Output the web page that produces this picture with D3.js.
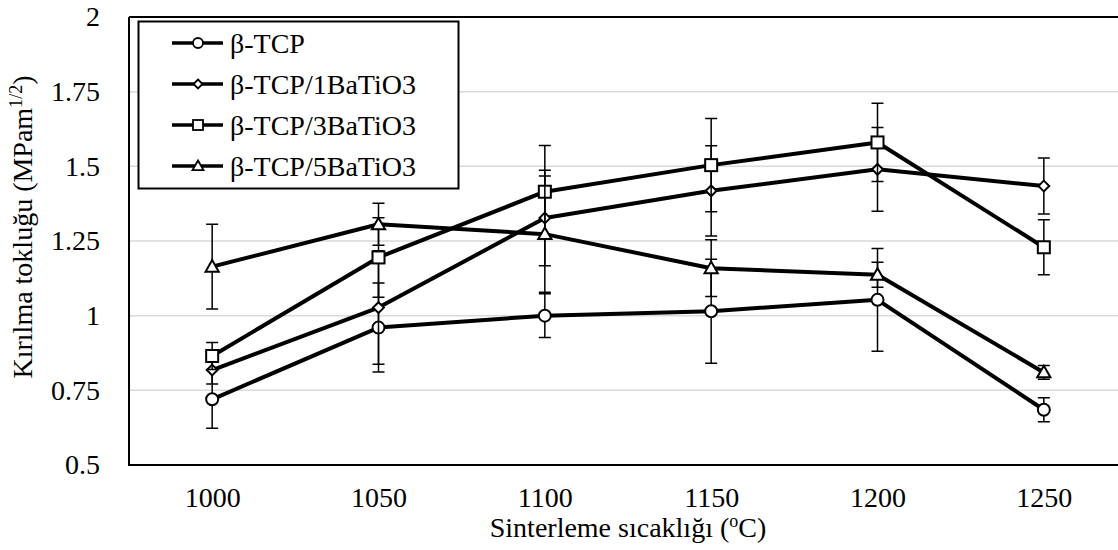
<!DOCTYPE html>
<html>
<head>
<meta charset="utf-8">
<script src="https://cdn.jsdelivr.net/npm/d3@7"></script>
<style>
  body { margin: 0; background: #fff; }
  svg, svg text { font-family: "Liberation Serif", "Times New Roman", serif; }
</style>
</head>
<body>
<div id="chart"></div>
<script>
const categories = [1000, 1050, 1100, 1150, 1200, 1250];
const yTicks = [0.5, 0.75, 1, 1.25, 1.5, 1.75, 2];

const tcp = [0.72, 0.96, 1.0, 1.015, 1.053, 0.685];
const tcpErr = [0.097, 0.149, 0.073, 0.174, 0.172, 0.04];
const ba1 = [0.818, 1.027, 1.327, 1.418, 1.49, 1.434];
const ba1Err = [0.047, 0.19, 0.16, 0.151, 0.14, 0.094];
const ba3 = [0.865, 1.195, 1.415, 1.504, 1.58, 1.229];
const ba3Err = [0.045, 0.133, 0.155, 0.156, 0.131, 0.092];
const ba5 = [1.164, 1.306, 1.273, 1.159, 1.137, 0.81];
const ba5Err = [0.142, 0.07, 0.195, 0.095, 0.042, 0.023];

const seriesNames = ['β-TCP', 'β-TCP/1BaTiO3', 'β-TCP/3BaTiO3', 'β-TCP/5BaTiO3'];
const markers = ['circle', 'diamond', 'square', 'triangle'];

const series = seriesNames.map((name, i) => ({
    name: name,
    marker: markers[i],
    values: [tcp, ba1, ba3, ba5][i],
    errors: [tcpErr, ba1Err, ba3Err, ba5Err][i]
}));

const FONT = '"Liberation Serif", "Times New Roman", serif';
const W = 1118, H = 550;
const plot = { left: 129, right: 1127, top: 17, bottom: 465 };

const svg = d3.select('#chart').append('svg')
    .attr('width', W)
    .attr('height', H)
    .attr('font-family', FONT);

const x = d3.scalePoint()
    .domain(categories)
    .range([plot.left, plot.right])
    .padding(0.5);

const y = d3.scaleLinear()
    .domain([0.5, 2])
    .range([plot.bottom, plot.top]);

// gridlines
svg.append('g')
    .selectAll('line')
    .data(yTicks.filter(t => t > 0.5 && t < 2))
    .enter()
    .append('line')
    .attr('x1', plot.left)
    .attr('x2', plot.right)
    .attr('y1', d => y(d))
    .attr('y2', d => y(d))
    .attr('stroke', '#d9d9d9')
    .attr('stroke-width', 1.5);

// y axis
const yAxis = svg.append('g')
    .attr('transform', `translate(${plot.left},0)`)
    .call(d3.axisLeft(y).tickValues(yTicks).tickSize(0).tickPadding(29).tickFormat(d => String(d)))
    .attr('font-family', FONT)
    .attr('font-size', 28);
yAxis.select('.domain').remove();
yAxis.selectAll('text').attr('fill', '#000');

// x axis
const xAxis = svg.append('g')
    .attr('transform', `translate(0,${plot.bottom})`)
    .call(d3.axisBottom(x).tickSize(0).tickPadding(22))
    .attr('font-family', FONT)
    .attr('font-size', 28);
xAxis.select('.domain').remove();
xAxis.selectAll('text').attr('fill', '#000');

// frame: left, top, bottom
svg.append('path')
    .attr('d', `M${plot.left},${plot.top}H${plot.right}M${plot.left},${plot.top}V${plot.bottom}H${plot.right}`)
    .attr('fill', 'none')
    .attr('stroke', '#000')
    .attr('stroke-width', 2);

// axis titles
const yTitle = svg.append('text')
    .attr('transform', `translate(32,227) rotate(-90)`)
    .attr('text-anchor', 'middle')
    .style('font-size', '28px');
yTitle.append('tspan').text('Kırılma tokluğu (MPam');
yTitle.append('tspan').attr('baseline-shift', 'super').style('font-size', '18px').text('1/2');
yTitle.append('tspan').text(')');

const xTitle = svg.append('text')
    .attr('x', (plot.left + plot.right) / 2)
    .attr('y', 537)
    .attr('text-anchor', 'middle')
    .style('font-size', '28px');
xTitle.append('tspan').text('Sinterleme sıcaklığı (');
xTitle.append('tspan').attr('baseline-shift', 'super').style('font-size', '18px').text('o');
xTitle.append('tspan').text('C)');

// marker drawing
function drawMarker(sel, type, s) {
    if (type === 'circle') {
        sel.append('circle').attr('r', s * 0.5);
    } else if (type === 'square') {
        sel.append('rect').attr('x', -s / 2).attr('y', -s / 2).attr('width', s).attr('height', s);
    } else if (type === 'diamond') {
        const h = s * 0.45;
        sel.append('path').attr('d', `M0,${-h}L${h},0L0,${h}L${-h},0Z`);
    } else {
        const h = s * 0.55;
        sel.append('path').attr('d', `M0,${-h}L${h},${h * 0.75}L${-h},${h * 0.75}Z`);
    }
}

const line = d3.line()
    .x((d, i) => x(categories[i]))
    .y(d => y(d));

const capW = 6;

series.forEach(s => {
    const g = svg.append('g');

    g.append('path')
        .datum(s.values)
        .attr('d', line)
        .attr('fill', 'none')
        .attr('stroke', '#000')
        .attr('stroke-width', 4)
        .attr('stroke-linejoin', 'round');

    g.selectAll('.err')
        .data(s.values.map((v, i) => ({ cat: categories[i], v: v, e: s.errors[i] })))
        .enter()
        .append('path')
        .attr('d', d => {
            const cx = x(d.cat), y1 = y(d.v + d.e), y2 = y(d.v - d.e);
            return `M${cx},${y1}V${y2}M${cx - capW},${y1}H${cx + capW}M${cx - capW},${y2}H${cx + capW}`;
        })
        .attr('fill', 'none')
        .attr('stroke', '#000')
        .attr('stroke-width', 1.5);

    s.values.forEach((v, i) => {
        const m = g.append('g')
            .attr('transform', `translate(${x(categories[i])},${y(v)})`)
            .attr('fill', '#fff')
            .attr('stroke', '#000')
            .attr('stroke-width', 2);
        drawMarker(m, s.marker, 12);
    });
});

// legend
const legend = svg.append('g');
legend.append('rect')
    .attr('x', 138.5)
    .attr('y', 21.5)
    .attr('width', 320)
    .attr('height', 167)
    .attr('fill', '#fff')
    .attr('stroke', '#000')
    .attr('stroke-width', 2);

series.forEach((s, i) => {
    const cy = 43 + i * 41;
    const row = legend.append('g');
    row.append('line')
        .attr('x1', 172).attr('x2', 223)
        .attr('y1', cy).attr('y2', cy)
        .attr('stroke', '#000')
        .attr('stroke-width', 3.5);
    const m = row.append('g')
        .attr('transform', `translate(198,${cy})`)
        .attr('fill', '#fff')
        .attr('stroke', '#000')
        .attr('stroke-width', 1.8);
    drawMarker(m, s.marker, 10);
    row.append('text')
        .attr('x', 230)
        .attr('y', cy)
        .attr('dy', '0.35em')
        .attr('font-family', FONT)
        .style('font-size', '28px')
        .text(s.name);
});
</script>
</body>
</html>
